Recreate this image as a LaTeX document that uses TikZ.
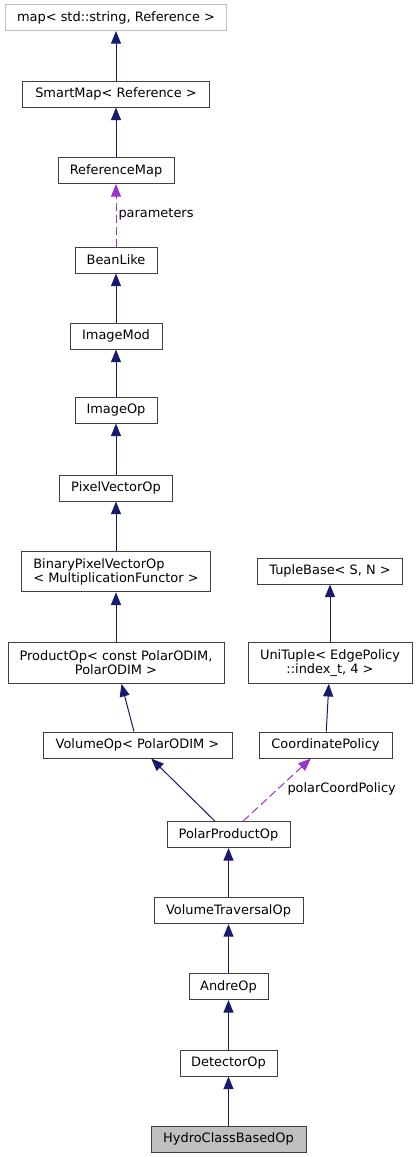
\documentclass[tikz,border=0pt]{standalone}
\usepackage{fontspec}
\setmainfont{DejaVu Sans}
\usetikzlibrary{arrows.meta}
\definecolor{edgeblue}{HTML}{191970}
\definecolor{edgepurple}{HTML}{9A32CD}
\definecolor{boxgray}{HTML}{404040}
\definecolor{extgray}{HTML}{BFBFBF}

\begin{document}
\begin{tikzpicture}[x=0.75pt, y=-0.75pt, line width=0.75pt,
  cls/.style={draw=boxgray, minimum height=19.5pt, inner sep=0pt, align=center,
              font=\fontsize{9.7}{10.5}\selectfont},
  wd/.style={minimum width=#1*0.75pt},
  tall/.style={minimum height=30.5pt},
  inh/.style={edgeblue, -{Triangle[length=9.5pt,width=7.5pt]}},
  use/.style={edgepurple, dash pattern=on 6pt off 3pt, -{Triangle[length=9.5pt,width=7.5pt]}},
  lbl/.style={anchor=west, inner sep=0pt, font=\fontsize{9.7}{10.5}\selectfont}]
\useasboundingbox (0,0) rectangle (417,1157);

\node[cls, wd=221, draw=extgray] (map)       at (116  ,  17.5) {map< std::string, Reference >};
\node[cls, wd=187]               (smartmap)  at (116  ,  94  ) {SmartMap< Reference >};
\node[cls, wd=116]               (refmap)    at (116  , 170.5) {ReferenceMap};
\node[cls, wd=82 ]               (beanlike)  at (116  , 260  ) {BeanLike};
\node[cls, wd=92 ]               (imagemod)  at (116  , 336  ) {ImageMod};
\node[cls, wd=82 ]               (imageop)   at (116  , 410  ) {ImageOp};
\node[cls, wd=113]               (pixelvec)  at (116  , 488  ) {PixelVectorOp};
\node[cls, wd=189, tall, align=left] (binpixvec) at (116, 571.5) {BinaryPixelVectorOp\\< MultiplicationFunctor >};
\node[cls, wd=145]               (tuplebase) at (330  , 571  ) {TupleBase< S, N >};
\node[cls, wd=216, tall]         (productop) at (116  , 663  ) {ProductOp< const PolarODIM,\\PolarODIM >};
\node[cls, wd=164, tall]         (unituple)  at (330  , 663  ) {UniTuple< EdgePolicy\\::index\_t, 4 >};
\node[cls, wd=189]               (volumeop)  at (137.5, 745  ) {VolumeOp< PolarODIM >};
\node[cls, wd=133]               (coordpol)  at (325.5, 745  ) {CoordinatePolicy};
\node[cls, wd=123]               (polarprod) at (228.5, 834.5) {PolarProductOp};
\node[cls, wd=149]               (voltrav)   at (228.5, 910.5) {VolumeTraversalOp};
\node[cls, wd=79 ]               (andre)     at (228.5, 986.5) {AndreOp};
\node[cls, wd=97 ]               (detector)  at (228.5,1063  ) {DetectorOp};
\node[cls, wd=155, fill=extgray] (hydro)     at (228.5,1139  ) {HydroClassBasedOp};

\node[lbl] (paramlbl) at (118,214) {parameters};
\node[lbl] (coordlbl) at (287,789) {polarCoordPolicy};

\draw[inh] (smartmap) -- (map);
\draw[inh] (refmap) -- (smartmap);
\draw[use] (beanlike) -- (refmap);
\draw[inh] (imagemod) -- (beanlike);
\draw[inh] (imageop) -- (imagemod);
\draw[inh] (pixelvec) -- (imageop);
\draw[inh] (binpixvec) -- (pixelvec);
\draw[inh] (productop) -- (binpixvec);
\draw[inh] (unituple) -- (tuplebase);
\draw[inh] (volumeop) -- (productop);
\draw[inh] (coordpol) -- (unituple);
\draw[inh] (polarprod) -- (volumeop);
\draw[use] (polarprod) -- (coordpol);
\draw[inh] (voltrav) -- (polarprod);
\draw[inh] (andre) -- (voltrav);
\draw[inh] (detector) -- (andre);
\draw[inh] (hydro) -- (detector);

\end{tikzpicture}
\end{document}
